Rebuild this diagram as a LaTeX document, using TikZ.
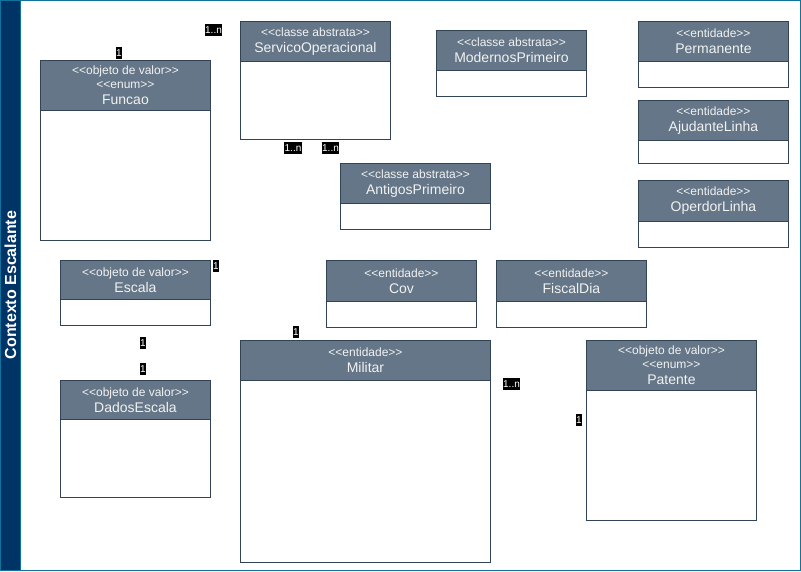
\documentclass[tikz,border=0pt]{standalone}
\usepackage{fontspec}
\setmainfont{Liberation Sans}
\definecolor{framecol}{HTML}{10739E}
\definecolor{bandcol}{HTML}{003366}
\definecolor{headfill}{HTML}{647687}
\definecolor{edgecol}{HTML}{314354}
\definecolor{headtext}{HTML}{F2F2F2}
\tikzset{
  classbody/.style={draw=edgecol, fill=white, line width=0.9pt, rectangle, inner sep=0pt},
  classhead/.style={draw=edgecol, fill=headfill, line width=0.9pt, rectangle, inner sep=0pt,
    text=headtext, align=center, font=\fontsize{14}{16}\selectfont},
  mult/.style={fill=black, text=white, inner xsep=0.6pt, inner ysep=1pt,
    font=\fontsize{10}{11}\selectfont, text height=8pt, text depth=2pt},
}
% one UML class: name, left, top, width, height, header height, header text
\newcommand\umlclass[7]{%
  \node[classbody, minimum width=#4pt, minimum height=#5pt, anchor=north west] (#1) at (#2,#3) {};
  \node[classhead, minimum width=#4pt, minimum height=#6pt, anchor=north west] (#1-head) at (#2,#3) {#7};
}
\newcommand\stereo[1]{{\fontsize{12}{14}\selectfont <{}<#1>{}>}}
\newcommand\cname[1]{{\fontsize{14}{16}\selectfont #1}}
\begin{document}
\begin{tikzpicture}[x=1pt,y=-1pt]
\useasboundingbox (0,0) rectangle (801,571);
% container
\draw[framecol, line width=1pt, fill=white] (0.5,0.5) rectangle (800.5,570.5);
\draw[framecol, line width=1pt, fill=bandcol] (0.5,0.5) rectangle (20.5,570.5);
\node[rotate=90, text=white, font=\fontsize{16}{18}\selectfont\bfseries] (ctx) at (10.5,285) {Contexto Escalante};

% classes
\umlclass{funcao}{40}{60}{170}{180}{50}{\stereo{objeto de valor}\\[-2pt]\stereo{enum}\\\cname{Funcao}}
\umlclass{servico}{240}{21}{150}{118}{40}{\stereo{classe abstrata}\\\cname{ServicoOperacional}}
\umlclass{modernos}{436}{30}{150}{66}{40}{\stereo{classe abstrata}\\\cname{ModernosPrimeiro}}
\umlclass{permanente}{638}{21}{150}{66}{40}{\stereo{entidade}\\\cname{Permanente}}
\umlclass{ajudante}{638}{100}{150}{63}{40}{\stereo{entidade}\\\cname{AjudanteLinha}}
\umlclass{operador}{638}{180}{150}{67}{41}{\stereo{entidade}\\\cname{OperdorLinha}}
\umlclass{antigos}{340}{163}{150}{66}{40}{\stereo{classe abstrata}\\\cname{AntigosPrimeiro}}
\umlclass{escala}{60}{260}{150}{65}{39}{\stereo{objeto de valor}\\\cname{Escala}}
\umlclass{cov}{326}{260}{150}{67}{41}{\stereo{entidade}\\\cname{Cov}}
\umlclass{fiscal}{496}{260}{150}{67}{41}{\stereo{entidade}\\\cname{FiscalDia}}
\umlclass{dados}{60}{380}{150}{117}{39}{\stereo{objeto de valor}\\\cname{DadosEscala}}
\umlclass{militar}{240}{340}{250}{222}{40}{\stereo{entidade}\\\cname{Militar}}
\umlclass{patente}{586}{340}{170}{180}{50}{\stereo{objeto de valor}\\[-2pt]\stereo{enum}\\\cname{Patente}}

% multiplicities
\node[mult] (m1) at (213.5,30) {1..n};
\node[mult] (m2) at (119,53) {1};
\node[mult] (m3) at (293,148) {1..n};
\node[mult] (m4) at (330.5,148) {1..n};
\node[mult] (m5) at (216,266) {1};
\node[mult] (m6) at (143,343) {1};
\node[mult] (m7) at (143,369) {1};
\node[mult] (m8) at (296,332) {1};
\node[mult] (m9) at (511.5,384) {1..n};
\node[mult] (m10) at (579,420) {1};
\end{tikzpicture}
\end{document}
